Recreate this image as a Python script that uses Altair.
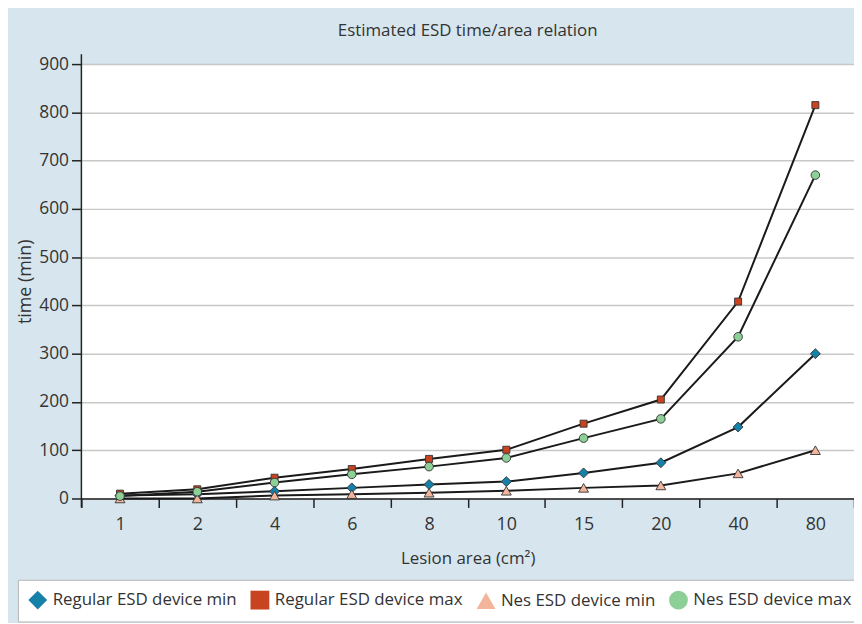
import altair as alt
import pandas as pd

areas = ["1", "2", "4", "6", "8", "10", "15", "20", "40", "80"]
series_names = [
    "Regular ESD device min",
    "Regular ESD device max",
    "Nes ESD device min",
    "Nes ESD device max",
]
reg_min = [6, 9, 15, 22, 29, 35, 53, 74, 148, 300]
reg_max = [10, 19, 43, 61, 82, 101, 155, 205, 408, 815]
nes_min = [0, 0, 6, 9, 12, 16, 22, 27, 52, 100]
nes_max = [5, 14, 33, 50, 66, 84, 125, 165, 335, 670]
y_ticks = [0, 100, 200, 300, 400, 500, 600, 700, 800, 900]

shapes = ["diamond", "square", "triangle-up", "circle"]
fills = ["#1580a8", "#c8431f", "#f2b59b", "#8ccf97"]
marker_sizes = [100, 50, 100, 75]

rows = []
for name, vals, ms in zip(series_names, [reg_min, reg_max, nes_min, nes_max], marker_sizes):
    for a, v in zip(areas, vals):
        rows.append({"area": a, "time": v, "series": name, "msize": ms})
df = pd.DataFrame(rows)

W, H = 779, 438
FONT = "Open Sans"

x_enc = alt.X(
    "area:N",
    sort=areas,
    scale=alt.Scale(paddingInner=0, paddingOuter=0),
    axis=alt.Axis(
        title="Lesion area (cm²)",
        labelAngle=0,
        tickBand="extent",
        labelFontSize=18,
        labelColor="#333333",
        labelPadding=8,
        tickSize=9,
        tickColor="#222222",
        tickWidth=1.5,
        domain=True,
        domainColor="#222222",
        domainWidth=1.5,
        grid=False,
        titleFontSize=17,
        titleFontWeight="normal",
        titleColor="#333333",
        titlePadding=18,
    ),
)
y_enc = alt.Y(
    "time:Q",
    scale=alt.Scale(domain=[0, 900], nice=False),
    axis=alt.Axis(
        title="time (min)",
        values=y_ticks,
        labelFontSize=17.5,
        labelColor="#333333",
        labelPadding=3,
        tickSize=10,
        tickColor="#222222",
        tickWidth=1.5,
        domain=False,
        grid=True,
        gridColor="#c8c8c8",
        gridWidth=1.5,
        titleFontSize=18,
        titleFontWeight="normal",
        titleColor="#333333",
        titlePadding=4,
    ),
)

legend = alt.Legend(
    title=None,
    orient="none",
    legendX=-64,
    legendY=520,
    direction="horizontal",
    columns=4,
    fillColor="white",
    strokeColor="#b5b5b5",
    padding=10,
    labelFontSize=17,
    labelColor="#333333",
    labelFont=FONT,
    labelLimit=400,
    symbolSize=360,
    symbolStrokeColor="#333333",
    symbolStrokeWidth=0.8,
    columnPadding=11,
    labelOffset=5,
)

base = alt.Chart(df)

lines = base.mark_line(color="#1a1a1a", strokeWidth=2).encode(
    x=x_enc, y=y_enc, detail="series:N"
)
points = base.mark_point(filled=True, opacity=1, stroke="#333333", strokeWidth=0.9).encode(
    x=x_enc,
    y=y_enc,
    shape=alt.Shape("series:N", scale=alt.Scale(domain=series_names, range=shapes), legend=legend),
    fill=alt.Fill("series:N", scale=alt.Scale(domain=series_names, range=fills), legend=legend),
    size=alt.Size("msize:Q", scale=None),
)
yline = alt.Chart(pd.DataFrame({"k": [0]})).mark_rule(color="#222222", strokeWidth=1.5).encode(
    x=alt.value(0), y=alt.value(-10), y2=alt.value(H + 9)
)

chart = (
    alt.layer(lines, points, yline)
    .properties(
        width=W,
        height=H,
        title=alt.TitleParams(
            "Estimated ESD time/area relation",
            fontSize=17,
            fontWeight="normal",
            color="#333333",
            font=FONT,
            offset=14,
        ),
        autosize=alt.AutoSizeParams(type="none"),
        padding={"left": 74, "top": 54, "right": 0, "bottom": 123},
    )
    .configure(background="#d7e6ee", font=FONT)
    .configure_view(fill="white", strokeWidth=0)
)

chart.save("out.html", embed_options={"renderer": "svg", "actions": False})
